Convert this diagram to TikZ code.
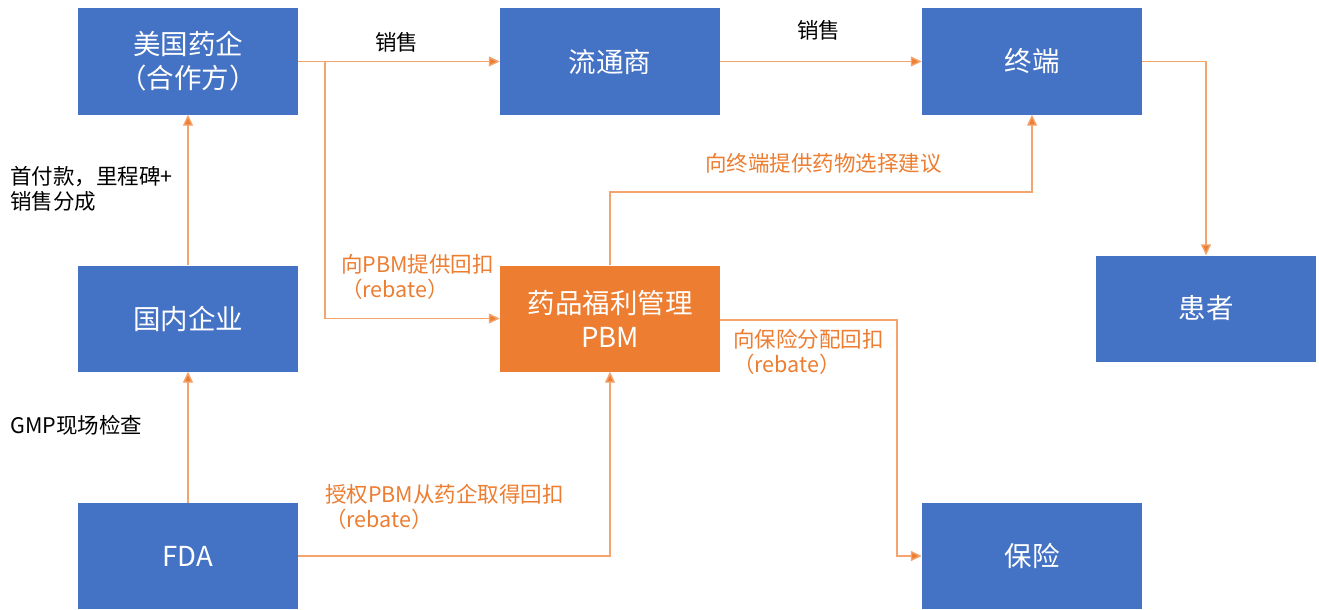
\documentclass[tikz,border=0pt]{standalone}
\usepackage{fontspec}
\setmainfont{Noto Sans CJK SC}
\usetikzlibrary{arrows.meta}
\definecolor{boxblue}{HTML}{4472C4}
\definecolor{boxorange}{HTML}{ED7D31}
\definecolor{lineorange}{HTML}{F4A56E}
\definecolor{txtorange}{HTML}{ED7D31}
\tikzset{
  bbox/.style={fill=boxblue, draw=none, minimum width=220pt, minimum height=106pt, text=white, font=\fontsize{27.5}{34}\selectfont, align=center, inner sep=0pt},
  obox/.style={bbox, fill=boxorange},
  conn/.style={draw=lineorange, line width=1.4pt, -{Triangle[length=11pt,width=10pt,fill=boxorange]}},
  lbl/.style={font=\fontsize{21.5}{25}\selectfont, align=left, inner sep=0pt},
  olbl/.style={lbl, text=txtorange},
}
\begin{document}
\begin{tikzpicture}[x=1pt,y=-1pt]
\useasboundingbox (0,0) rectangle (1319,610);
\fill[white] (0,0) rectangle (1319,610);
\node[bbox] (us) at (188,61.5) {美国药企\\（合作方）};
\node[bbox] (dist) at (610,61.5) {流通商};
\node[bbox] (term) at (1032,61.5) {终端};
\node[bbox] (dom) at (188,318.5) {国内企业};
\node[obox] (pbm) at (610,318.5) {药品福利管理\\PBM};
\node[bbox] (pat) at (1206,308.5) {患者};
\node[bbox] (fda) at (188,556) {FDA};
\node[bbox] (ins) at (1032,556) {保险};

\coordinate (b1) at (325,61.5);
\draw[conn] (us.east) -- (dist.west);
\draw[conn] (b1) |- (pbm.west);
\draw[conn] (dist.east) -- (term.west);
\draw[conn] (term.east) -| (pat.north);
\draw[conn] (pbm.north) |- (1032,192) -- (term.south);
\draw[conn] (pbm.east |- 0,320) -| (897,556) -- (ins.west);
\draw[conn] (dom.north) -- (us.south);
\draw[conn] (fda.north) -- (dom.south);
\draw[conn] (fda.east) -| (pbm.south);

\node[lbl, anchor=west] (l1) at (375,42) {销售};
\node[lbl, anchor=west] (l2) at (797,30) {销售};
\node[lbl, anchor=west] (l3) at (10,189) {首付款，里程碑+\\销售分成};
\node[lbl, anchor=west] (l4) at (10,425) {GMP现场检查};
\node[olbl, anchor=west] (l5) at (705,163) {向终端提供药物选择建议};
\node[olbl, anchor=west] (l6) at (341,277) {向PBM提供回扣\\（rebate）};
\node[olbl, anchor=west] (l7) at (733,352) {向保险分配回扣\\（rebate）};
\node[olbl, anchor=west] (l8) at (325,507) {授权PBM从药企取得回扣\\（rebate）};
\end{tikzpicture}
\end{document}
